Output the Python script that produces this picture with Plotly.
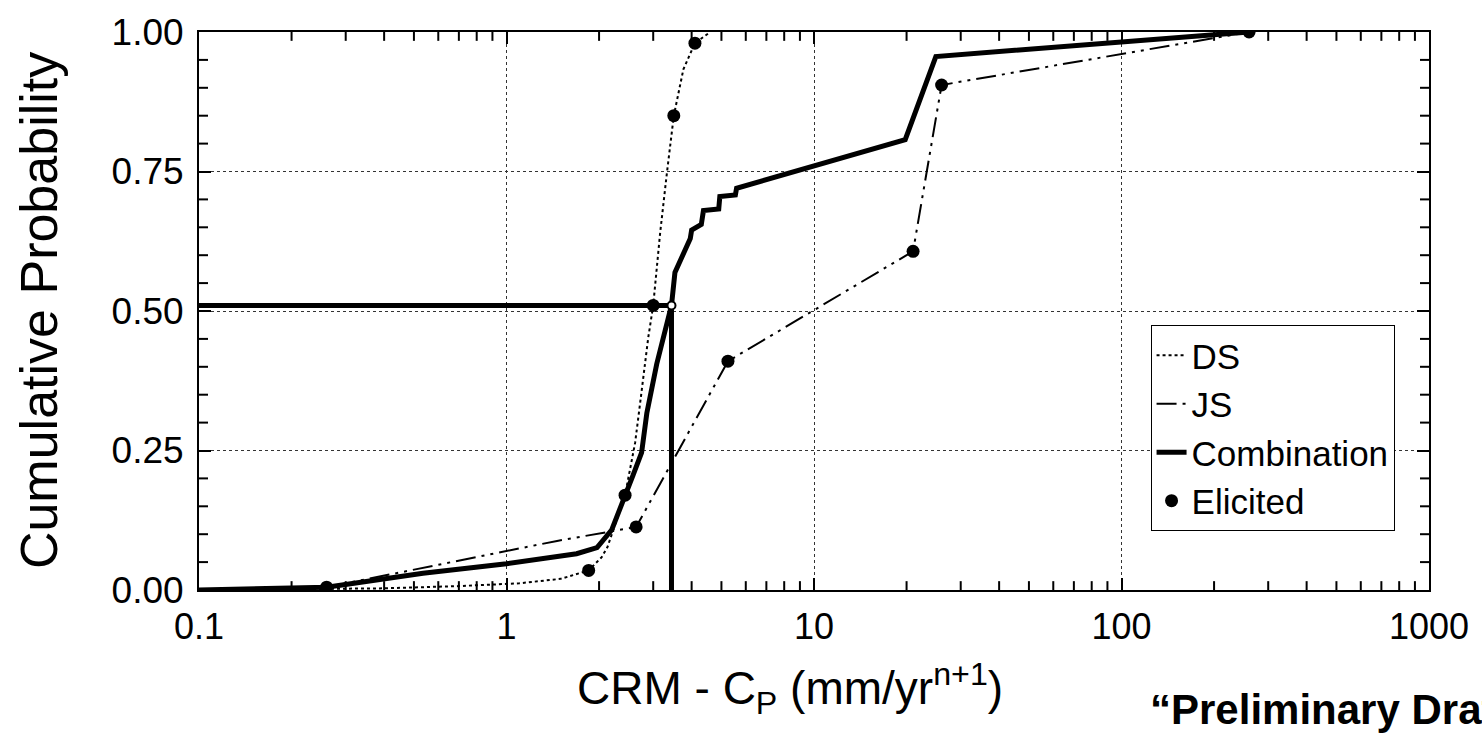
import plotly.graph_objects as go

# ---- data ----
ds_x = [0.1, 0.4, 0.7, 1.1, 1.5, 1.85, 2.04, 2.13, 2.43, 2.62, 2.72, 2.80, 2.89, 3.0, 3.16, 3.32, 3.5, 3.76, 4.1, 4.6]
ds_y = [0.0, 0.003, 0.007, 0.012, 0.02, 0.035, 0.059, 0.077, 0.17, 0.264, 0.335, 0.393, 0.452, 0.51, 0.64, 0.745, 0.85, 0.933, 0.98, 1.0]

js_x = [0.26, 0.418, 1.46, 2.64, 5.25, 21.0, 26.0, 260]
js_y = [0.005, 0.028, 0.088, 0.113, 0.41, 0.607, 0.905, 1.0]

comb_x = [0.1, 0.26, 0.535, 1.0, 1.69, 1.97, 2.2, 2.42, 2.58, 2.75, 2.86, 3.08, 3.32, 3.44, 3.53, 3.76, 3.96,
          4.0, 4.3, 4.37, 4.9, 4.94, 5.55, 5.6, 19.8, 24.9, 260]
comb_y = [0.0, 0.005, 0.030, 0.047, 0.065, 0.076, 0.108, 0.164, 0.206, 0.246, 0.317, 0.405, 0.475, 0.51, 0.569,
          0.604, 0.63, 0.645, 0.655, 0.68, 0.683, 0.705, 0.708, 0.72, 0.807, 0.956, 1.0]

el_x = [0.26, 1.85, 2.43, 2.64, 3.0, 3.5, 4.1, 5.25, 21.0, 26.0, 260]
el_y = [0.005, 0.035, 0.17, 0.113, 0.51, 0.85, 0.98, 0.41, 0.607, 0.905, 1.0]

median_x = 3.44
median_y = 0.51
x_min, x_max = 0.1, 1000

# tick positions
x_major_ticks = [0.1, 1, 10, 100, 1000]
x_major_text = ["0.1", "1", "10", "100", "1000"]
x_minor_mult = [2, 3, 4, 5, 6, 7, 8, 9]
x_minor_decades = [0.1, 1, 10, 100]
x_minor_ticks = [m * d for d in x_minor_decades for m in x_minor_mult]
y_minor_ticks = [0.05, 0.10, 0.15, 0.20, 0.30, 0.35, 0.40, 0.45, 0.55, 0.60, 0.65, 0.70, 0.80, 0.85, 0.90, 0.95]

x_title = "CRM - C<sub>P</sub> (mm/yr<sup>n+1</sup>)"
y_title = "Cumulative Probability"
note_text = "<b>\u201cPreliminary Draft\u201d</b>"

FONT = "Liberation Sans, Arial, sans-serif"
PLOT_W, PLOT_H = 1230, 568
MINOR_LEN = 9

fig = go.Figure()

fig.add_trace(go.Scatter(x=ds_x, y=ds_y, mode="lines", name="DS",
                         line=dict(color="black", width=2, dash="dot")))
fig.add_trace(go.Scatter(x=js_x, y=js_y, mode="lines", name="JS",
                         line=dict(color="black", width=2, dash="20px,6px,3px,6px,3px,6px")))
fig.add_trace(go.Scatter(x=comb_x, y=comb_y, mode="lines", name="Combination",
                         line=dict(color="black", width=5), legendgroup="comb"))
# median indicator lines
fig.add_trace(go.Scatter(x=[x_min, median_x, median_x], y=[median_y, median_y, 0],
                         mode="lines", showlegend=False, legendgroup="comb",
                         line=dict(color="black", width=5)))
fig.add_trace(go.Scatter(x=el_x, y=el_y, mode="markers", name="Elicited",
                         marker=dict(color="black", size=13)))
fig.add_trace(go.Scatter(x=[median_x], y=[median_y], mode="markers", showlegend=False,
                         marker=dict(color="white", size=8, line=dict(color="black", width=2))))

# minor tick marks (inside, on all four sides), positioned in data units on the axes
tick_line = dict(color="black", width=2)
for xv in x_minor_ticks:
    fig.add_shape(type="line", xref="x", yref="y domain", x0=xv, x1=xv,
                  y0=0, y1=MINOR_LEN / PLOT_H, line=tick_line, layer="above")
    fig.add_shape(type="line", xref="x", yref="y domain", x0=xv, x1=xv,
                  y0=1, y1=1 - MINOR_LEN / PLOT_H, line=tick_line, layer="above")
for yv in y_minor_ticks:
    fig.add_shape(type="line", xref="x domain", yref="y", x0=0, x1=MINOR_LEN / PLOT_W,
                  y0=yv, y1=yv, line=tick_line, layer="above")
    fig.add_shape(type="line", xref="x domain", yref="y", x0=1, x1=1 - MINOR_LEN / PLOT_W,
                  y0=yv, y1=yv, line=tick_line, layer="above")

fig.add_annotation(text=x_title, xref="paper", yref="paper",
                   x=0.4805, y=-0.176, xanchor="center", yanchor="middle", showarrow=False,
                   font=dict(family=FONT, size=46, color="black"))
fig.add_annotation(text=y_title, xref="paper", yref="paper", textangle=-90,
                   x=-0.13, y=0.5, xanchor="center", yanchor="middle", showarrow=False,
                   font=dict(family=FONT, size=52, color="black"))
fig.add_annotation(text=note_text, xref="paper", yref="paper",
                   x=0.7715, y=-0.215, xanchor="left", yanchor="middle", showarrow=False,
                   font=dict(family=FONT, size=42, color="black"))

fig.update_layout(
    width=1482, height=738,
    margin=dict(l=199, r=53, t=22, b=148),
    paper_bgcolor="white", plot_bgcolor="white",
    font=dict(family=FONT, color="black"),
    showlegend=True,
    legend=dict(x=0.972, y=0.475, xanchor="right", yanchor="top",
                bgcolor="white", bordercolor="black", borderwidth=1,
                font=dict(family=FONT, size=35, color="black"),
                tracegroupgap=0),
    xaxis=dict(type="log", range=[-1, 3], tickmode="array", tickvals=x_major_ticks,
               ticktext=x_major_text,
               ticks="inside", ticklen=12, tickwidth=2, tickcolor="black",
               showline=True, linecolor="black", linewidth=2, mirror="allticks",
               showgrid=True, gridcolor="#333", gridwidth=1, griddash="dot",
               zeroline=False, ticklabelstandoff=4,
               tickfont=dict(family=FONT, size=36, color="black")),
    yaxis=dict(range=[0, 1], tickmode="linear", tick0=0, dtick=0.25, tickformat=".2f",
               ticks="inside", ticklen=12, tickwidth=2, tickcolor="black",
               showline=True, linecolor="black", linewidth=2, mirror="allticks",
               showgrid=True, gridcolor="#333", gridwidth=1, griddash="dot",
               zeroline=False, ticklabelstandoff=6,
               tickfont=dict(family=FONT, size=37, color="black")),
)

fig.write_html("out.html")
